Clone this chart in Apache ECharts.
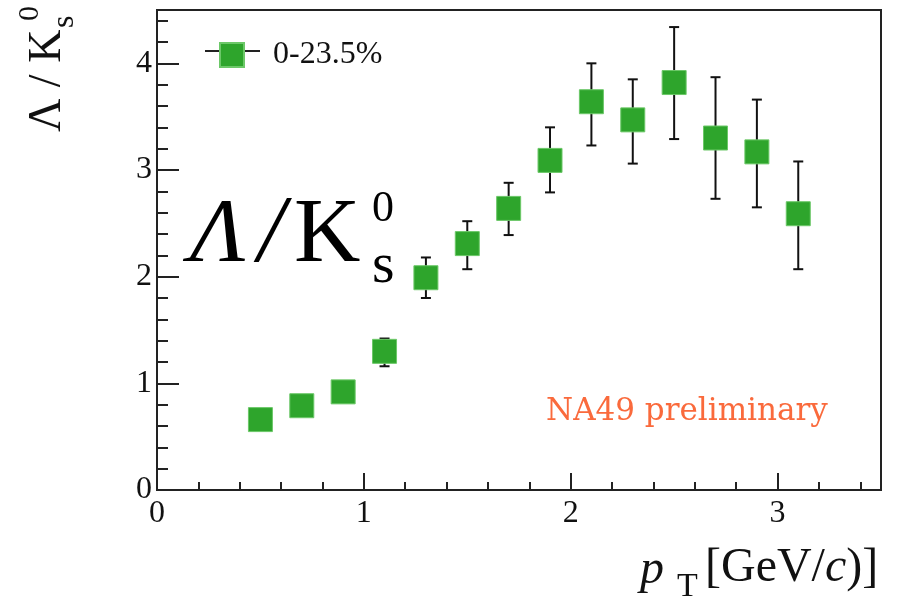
<!DOCTYPE html>
<html>
<head>
<meta charset="utf-8">
<script src="https://cdn.jsdelivr.net/npm/echarts/dist/echarts.min.js"></script>
<style>
    body { margin: 0; background: #fff; }
    #myChart { width: 898px; height: 602px; }
</style>
</head>
<body>
<div id="myChart"></div>
<script>
    // pT bin centres and Lambda/K0s ratio
    var ptValues = [0.5, 0.7, 0.9, 1.1, 1.3, 1.5, 1.7, 1.9, 2.1, 2.3, 2.5, 2.7, 2.9, 3.1];
    var ratioValues = [0.66, 0.79, 0.92, 1.30, 1.99, 2.31, 2.64, 3.09, 3.64, 3.47, 3.82, 3.30, 3.17, 2.59];
    // error bar ends
    var errHigh = [0.70, 0.83, 0.96, 1.42, 2.18, 2.52, 2.88, 3.40, 4.00, 3.85, 4.34, 3.87, 3.66, 3.08];
    var errLow = [0.62, 0.75, 0.88, 1.16, 1.80, 2.07, 2.39, 2.79, 3.23, 3.06, 3.29, 2.73, 2.65, 2.07];
    var seriesName = '0-23.5%';

    var serif = '"Liberation Serif", "Times New Roman", serif';

    var points = [];
    var bars = [];
    for (var i = 0; i < ptValues.length; i++) {
        points.push([ptValues[i], ratioValues[i]]);
        bars.push([ptValues[i], errLow[i], errHigh[i]]);
    }

    var myChart = echarts.init(document.getElementById('myChart'));

    myChart.setOption({
        animation: false,
        grid: {
            left: 157,
            right: 17,
            top: 10,
            bottom: 112,
            show: true,
            borderColor: '#222',
            borderWidth: 2
        },
        legend: {
            data: [seriesName],
            left: 214,
            top: 34,
            icon: 'rect',
            itemWidth: 24,
            itemHeight: 24,
            selectedMode: false,
            textStyle: {
                fontFamily: serif,
                fontSize: 32,
                color: '#111',
                padding: [0, 0, 0, 24]
            }
        },
        xAxis: {
            type: 'value',
            min: 0,
            max: 3.5,
            interval: 1,
            splitLine: { show: false },
            axisLine: { lineStyle: { color: '#222', width: 2 } },
            axisTick: { inside: true, length: 17, lineStyle: { color: '#222', width: 2 } },
            minorTick: { show: true, splitNumber: 5, length: 8, lineStyle: { color: '#222', width: 2 } },
            axisLabel: {
                showMaxLabel: false,
                margin: 8,
                fontFamily: serif,
                fontSize: 32,
                color: '#111'
            }
        },
        yAxis: {
            type: 'value',
            min: 0,
            max: 4.5,
            interval: 1,
            splitLine: { show: false },
            axisLine: { lineStyle: { color: '#222', width: 2 } },
            axisTick: { inside: true, length: 22, lineStyle: { color: '#222', width: 2 } },
            minorTick: { show: true, splitNumber: 5, length: 11, lineStyle: { color: '#222', width: 2 } },
            axisLabel: {
                showMaxLabel: false,
                margin: 5,
                fontFamily: serif,
                fontSize: 32,
                color: '#111'
            }
        },
        graphic: [
            // legend line behind the marker
            {
                type: 'line',
                z: 0,
                shape: { x1: 205, y1: 51, x2: 260, y2: 51 },
                style: { stroke: '#222', lineWidth: 2 }
            },
            // y axis title
            {
                type: 'group',
                x: 0,
                y: 140,
                rotation: Math.PI / 2,
                children: [
                    { type: 'text', x: 8, y: 48, style: { text: 'Λ / K', font: '46px ' + serif, fill: '#111', verticalAlign: 'middle' } },
                    { type: 'text', x: 112, y: 65, style: { text: 's', font: '32px ' + serif, fill: '#111', verticalAlign: 'middle' } },
                    { type: 'text', x: 119, y: 30, style: { text: '0', font: '30px ' + serif, fill: '#111', verticalAlign: 'middle' } }
                ]
            },
            // x axis title
            { type: 'text', x: 640, y: 570, style: { text: 'p', font: 'italic 48px ' + serif, fill: '#111', verticalAlign: 'middle' } },
            { type: 'text', x: 677, y: 587, style: { text: 'T', font: '34px ' + serif, fill: '#111', verticalAlign: 'middle' } },
            {
                type: 'text', x: 705, y: 568,
                style: {
                    text: '[GeV/{i|c})]',
                    font: '48px ' + serif,
                    fill: '#111',
                    verticalAlign: 'middle',
                    rich: { i: { fontStyle: 'italic', fontSize: 48, fontFamily: serif, fill: '#111' } }
                }
            },
            // big ratio label in the plot
            { type: 'text', x: 190, y: 237, style: { text: 'Λ', font: 'italic 92px ' + serif, fill: '#000', verticalAlign: 'middle' } },
            { type: 'text', x: 258, y: 236, style: { text: '/', font: 'italic 96px ' + serif, fill: '#000', verticalAlign: 'middle' } },
            { type: 'text', x: 294, y: 237, style: { text: 'K', font: '92px ' + serif, fill: '#000', verticalAlign: 'middle' } },
            { type: 'text', x: 372, y: 209, style: { text: '0', font: '44px ' + serif, fill: '#000', verticalAlign: 'middle' } },
            { type: 'text', x: 372, y: 267, style: { text: 's', font: '58px ' + serif, fill: '#000', verticalAlign: 'middle' } },
            // preliminary tag
            { type: 'text', x: 546, y: 412, style: { text: 'NA49 preliminary', font: '31px "DejaVu Serif", serif', fill: '#fa6a3c', verticalAlign: 'middle' } }
        ],
        series: [
            {
                name: 'err',
                type: 'custom',
                z: 1,
                data: bars,
                renderItem: function (params, api) {
                    var top = api.coord([api.value(0), api.value(2)]);
                    var bottom = api.coord([api.value(0), api.value(1)]);
                    var lineStyle = { stroke: '#111', lineWidth: 2 };
                    return {
                        type: 'group',
                        children: [
                            { type: 'line', shape: { x1: top[0], y1: top[1], x2: bottom[0], y2: bottom[1] }, style: lineStyle },
                            { type: 'line', shape: { x1: top[0] - 5, y1: top[1], x2: top[0] + 5, y2: top[1] }, style: lineStyle },
                            { type: 'line', shape: { x1: bottom[0] - 5, y1: bottom[1], x2: bottom[0] + 5, y2: bottom[1] }, style: lineStyle }
                        ]
                    };
                }
            },
            {
                name: seriesName,
                type: 'scatter',
                z: 3,
                symbol: 'rect',
                symbolSize: 24,
                itemStyle: { color: '#2ea52c', borderColor: '#6cc868', borderWidth: 1, opacity: 1 },
                data: points
            }
        ]
    });
</script>
</body>
</html>
